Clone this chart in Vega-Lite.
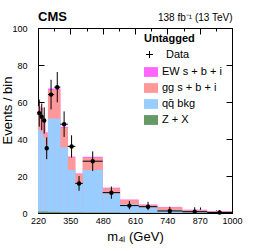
{
  "$schema": "https://vega.github.io/schema/vega-lite/v6.json",
  "width": 194,
  "height": 185,
  "autosize": {"type": "none"},
  "padding": {"left": 38, "top": 28, "right": 26, "bottom": 38},
  "config": {
    "font": "Liberation Sans",
    "view": {"stroke": "#000", "strokeWidth": 1},
    "axis": {"domainColor": "#000", "tickColor": "#000", "labelColor": "#000", "titleColor": "#000", "labelFontSize": 9, "titleFontSize": 13, "titleFontWeight": "normal", "grid": false, "labelFont": "Liberation Sans", "titleFont": "Liberation Sans"},
    "legend": {"labelColor": "#000", "titleColor": "#000", "labelFont": "Liberation Sans", "titleFont": "Liberation Sans"},
    "title": {"color": "#000"}
  },
  "title": {"text": "CMS", "anchor": "start", "frame": "group", "fontSize": 13, "fontWeight": "bold", "offset": 0, "dy": 22, "baseline": "alphabetic", "font": "Liberation Sans"},
  "datasets": {
    "hist": [
      {"lo": 220, "hi": 230, "p": "EW s + b + i", "o": 0, "t": 57.8},
      {"lo": 230, "hi": 240, "p": "EW s + b + i", "o": 0, "t": 56.8},
      {"lo": 240, "hi": 250, "p": "EW s + b + i", "o": 0, "t": 50.7},
      {"lo": 250, "hi": 260, "p": "EW s + b + i", "o": 0, "t": 43.6},
      {"lo": 260, "hi": 285, "p": "EW s + b + i", "o": 0, "t": 67.3},
      {"lo": 285, "hi": 310, "p": "EW s + b + i", "o": 0, "t": 67.3},
      {"lo": 310, "hi": 340, "p": "EW s + b + i", "o": 0, "t": 46.6},
      {"lo": 340, "hi": 370, "p": "EW s + b + i", "o": 0, "t": 30.5},
      {"lo": 370, "hi": 400, "p": "EW s + b + i", "o": 0, "t": 21.4},
      {"lo": 400, "hi": 480, "p": "EW s + b + i", "o": 0, "t": 30.4},
      {"lo": 480, "hi": 550, "p": "EW s + b + i", "o": 0, "t": 13.7},
      {"lo": 550, "hi": 625, "p": "EW s + b + i", "o": 0, "t": 7.3},
      {"lo": 625, "hi": 700, "p": "EW s + b + i", "o": 0, "t": 4.6},
      {"lo": 700, "hi": 800, "p": "EW s + b + i", "o": 0, "t": 3.3},
      {"lo": 800, "hi": 900, "p": "EW s + b + i", "o": 0, "t": 1.8},
      {"lo": 900, "hi": 1000, "p": "EW s + b + i", "o": 0, "t": 1.0},
      {"lo": 220, "hi": 230, "p": "gg s + b + i", "o": 1, "t": 57},
      {"lo": 230, "hi": 240, "p": "gg s + b + i", "o": 1, "t": 56},
      {"lo": 240, "hi": 250, "p": "gg s + b + i", "o": 1, "t": 50},
      {"lo": 250, "hi": 260, "p": "gg s + b + i", "o": 1, "t": 43},
      {"lo": 260, "hi": 285, "p": "gg s + b + i", "o": 1, "t": 66.5},
      {"lo": 285, "hi": 310, "p": "gg s + b + i", "o": 1, "t": 66.5},
      {"lo": 310, "hi": 340, "p": "gg s + b + i", "o": 1, "t": 46},
      {"lo": 340, "hi": 370, "p": "gg s + b + i", "o": 1, "t": 30},
      {"lo": 370, "hi": 400, "p": "gg s + b + i", "o": 1, "t": 21},
      {"lo": 400, "hi": 480, "p": "gg s + b + i", "o": 1, "t": 29.9},
      {"lo": 480, "hi": 550, "p": "gg s + b + i", "o": 1, "t": 13.3},
      {"lo": 550, "hi": 625, "p": "gg s + b + i", "o": 1, "t": 7},
      {"lo": 625, "hi": 700, "p": "gg s + b + i", "o": 1, "t": 4.3},
      {"lo": 700, "hi": 800, "p": "gg s + b + i", "o": 1, "t": 3.1},
      {"lo": 800, "hi": 900, "p": "gg s + b + i", "o": 1, "t": 1.6},
      {"lo": 900, "hi": 1000, "p": "gg s + b + i", "o": 1, "t": 0.9},
      {"lo": 220, "hi": 230, "p": "qq̄ bkg", "o": 2, "t": 45},
      {"lo": 230, "hi": 240, "p": "qq̄ bkg", "o": 2, "t": 44},
      {"lo": 240, "hi": 250, "p": "qq̄ bkg", "o": 2, "t": 41},
      {"lo": 250, "hi": 260, "p": "qq̄ bkg", "o": 2, "t": 37},
      {"lo": 260, "hi": 285, "p": "qq̄ bkg", "o": 2, "t": 51},
      {"lo": 285, "hi": 310, "p": "qq̄ bkg", "o": 2, "t": 51},
      {"lo": 310, "hi": 340, "p": "qq̄ bkg", "o": 2, "t": 35.5},
      {"lo": 340, "hi": 370, "p": "qq̄ bkg", "o": 2, "t": 23.2},
      {"lo": 370, "hi": 400, "p": "qq̄ bkg", "o": 2, "t": 16},
      {"lo": 400, "hi": 480, "p": "qq̄ bkg", "o": 2, "t": 23.2},
      {"lo": 480, "hi": 550, "p": "qq̄ bkg", "o": 2, "t": 10.6},
      {"lo": 550, "hi": 625, "p": "qq̄ bkg", "o": 2, "t": 4.7},
      {"lo": 625, "hi": 700, "p": "qq̄ bkg", "o": 2, "t": 3.2},
      {"lo": 700, "hi": 800, "p": "qq̄ bkg", "o": 2, "t": 1.6},
      {"lo": 800, "hi": 900, "p": "qq̄ bkg", "o": 2, "t": 0.8},
      {"lo": 900, "hi": 1000, "p": "qq̄ bkg", "o": 2, "t": 0.4},
      {"lo": 220, "hi": 230, "p": "Z + X", "o": 3, "t": 0.8},
      {"lo": 230, "hi": 240, "p": "Z + X", "o": 3, "t": 0.8},
      {"lo": 240, "hi": 250, "p": "Z + X", "o": 3, "t": 0.8},
      {"lo": 250, "hi": 260, "p": "Z + X", "o": 3, "t": 0.8},
      {"lo": 260, "hi": 285, "p": "Z + X", "o": 3, "t": 0.6},
      {"lo": 285, "hi": 310, "p": "Z + X", "o": 3, "t": 0.6},
      {"lo": 310, "hi": 340, "p": "Z + X", "o": 3, "t": 0.4},
      {"lo": 340, "hi": 370, "p": "Z + X", "o": 3, "t": 0.4},
      {"lo": 370, "hi": 400, "p": "Z + X", "o": 3, "t": 0.4},
      {"lo": 400, "hi": 480, "p": "Z + X", "o": 3, "t": 0.3},
      {"lo": 480, "hi": 550, "p": "Z + X", "o": 3, "t": 0.3},
      {"lo": 550, "hi": 625, "p": "Z + X", "o": 3, "t": 0.1},
      {"lo": 625, "hi": 700, "p": "Z + X", "o": 3, "t": 0.1},
      {"lo": 700, "hi": 800, "p": "Z + X", "o": 3, "t": 0.1},
      {"lo": 800, "hi": 900, "p": "Z + X", "o": 3, "t": 0.1},
      {"lo": 900, "hi": 1000, "p": "Z + X", "o": 3, "t": 0.05}
    ],
    "obs": [
      {"c": 225, "lo": 220, "hi": 230, "n": 54, "el": 46.7, "eh": 61.3},
      {"c": 235, "lo": 230, "hi": 240, "n": 52, "el": 44.8, "eh": 59.2},
      {"c": 245, "lo": 240, "hi": 250, "n": 50, "el": 42.9, "eh": 57.1},
      {"c": 255, "lo": 250, "hi": 260, "n": 35, "el": 29.1, "eh": 40.9},
      {"c": 272.5, "lo": 260, "hi": 285, "n": 64, "el": 56, "eh": 72},
      {"c": 297.5, "lo": 285, "hi": 310, "n": 68, "el": 59.8, "eh": 76.2},
      {"c": 325, "lo": 310, "hi": 340, "n": 48, "el": 41.1, "eh": 54.9},
      {"c": 355, "lo": 340, "hi": 370, "n": 36, "el": 30, "eh": 42},
      {"c": 385, "lo": 370, "hi": 400, "n": 16, "el": 12, "eh": 20},
      {"c": 440, "lo": 400, "hi": 480, "n": 28, "el": 22.7, "eh": 33.3},
      {"c": 515, "lo": 480, "hi": 550, "n": 11, "el": 7.7, "eh": 14.3},
      {"c": 587.5, "lo": 550, "hi": 625, "n": 4, "el": 2, "eh": 6.5},
      {"c": 662.5, "lo": 625, "hi": 700, "n": 3.4, "el": 1.6, "eh": 6},
      {"c": 750, "lo": 700, "hi": 800, "n": 1.1, "el": 0.2, "eh": 3.4},
      {"c": 850, "lo": 800, "hi": 900, "n": 0.7, "el": 0, "eh": 3.1},
      {"c": 950, "lo": 900, "hi": 1000, "n": 0.3, "el": 0, "eh": 1.6}
    ]
  },
  "layer": [
    {
      "data": {"name": "hist"},
      "mark": {"type": "bar", "strokeWidth": 0},
      "encoding": {
        "x": {"field": "lo", "type": "quantitative", "scale": {"domain": [220, 1000], "nice": false, "zero": false},
          "axis": {"orient": "bottom", "values": [220, 285, 350, 415, 480, 545, 610, 675, 740, 805, 870, 935, 1000], "format": "d",
            "labelExpr": "(datum.value-220)%130==0 ? datum.label : ''",
            "tickSize": {"condition": {"test": "(datum.value-220)%130==0", "value": -6}, "value": -3},
            "labelPadding": 9.5, "labelFlush": false, "labelOverlap": false,
            "title": "m₄ₗ (GeV)", "titleX": 97, "titleY": 27, "titleBaseline": "alphabetic", "titleAlign": "center"}},
        "x2": {"field": "hi"},
        "y": {"field": "t", "type": "quantitative", "stack": null, "scale": {"domain": [0, 100], "nice": false},
          "axis": {"orient": "left", "values": [0, 20, 40, 60, 80, 100], "tickSize": -6, "labelPadding": 17,
            "title": "Events / bin", "titleX": -31, "titleY": 82, "titleAngle": 270, "titleAlign": "center", "titleBaseline": "middle"}},
        "y2": {"datum": 0},
        "order": {"field": "o", "type": "quantitative"},
        "fill": {"field": "p", "type": "nominal",
          "scale": {"domain": ["EW s + b + i", "gg s + b + i", "qq̄ bkg", "Z + X"], "range": ["#ff66ff", "#ff9999", "#99ccff", "#669966"]},
          "legend": {"title": null, "orient": "none", "legendX": 106, "legendY": 37, "symbolType": "M-1,-0.7H1V0.7H-1Z", "symbolSize": 196, "symbolStrokeWidth": 0, "symbolOpacity": 1, "labelFontSize": 11, "labelOffset": 4, "rowPadding": 4, "padding": 0}}
      }
    },
    {
      "data": {"name": "obs"},
      "mark": {"type": "rule", "color": "#000", "strokeWidth": 1},
      "encoding": {
        "x": {"field": "c", "type": "quantitative", "axis": null},
        "y": {"field": "el", "type": "quantitative", "axis": null},
        "y2": {"field": "eh"}
      }
    },
    {
      "data": {"name": "obs"},
      "mark": {"type": "rule", "color": "#000", "strokeWidth": 1},
      "encoding": {
        "x": {"field": "lo", "type": "quantitative", "axis": null},
        "x2": {"field": "hi"},
        "y": {"field": "n", "type": "quantitative", "axis": null}
      }
    },
    {
      "data": {"name": "obs"},
      "mark": {"type": "point", "filled": true, "fill": "#000", "size": 6, "opacity": 1},
      "encoding": {
        "x": {"field": "c", "type": "quantitative",
          "axis": {"orient": "top", "values": [220, 285, 350, 415, 480, 545, 610, 675, 740, 805, 870, 935, 1000], "labels": false,
            "tickSize": {"condition": {"test": "(datum.value-220)%130==0", "value": -6}, "value": -3},
            "title": "138 fb⁻¹ (13 TeV)", "titleFontSize": 10, "titleX": 194, "titleY": -8, "titleAlign": "right", "titleBaseline": "alphabetic"}},
        "y": {"field": "n", "type": "quantitative",
          "axis": {"orient": "right", "values": [0, 20, 40, 60, 80, 100], "labels": false, "tickSize": -6, "title": null}},
        "stroke": {"datum": "Data", "type": "nominal", "scale": {"range": ["#000"]},
          "legend": {"title": "Untagged", "titleFontSize": 11, "titleFontWeight": "bold", "titlePadding": 5, "orient": "none", "legendX": 106, "legendY": 5,
            "symbolType": "M-1,0H1M0,-1V1", "symbolSize": 49, "symbolStrokeWidth": 1, "symbolStrokeColor": "#000", "labelFontSize": 11, "labelOffset": 11, "padding": 0}}
      }
    }
  ],
  "resolve": {"axis": {"x": "independent", "y": "independent"}}
}
